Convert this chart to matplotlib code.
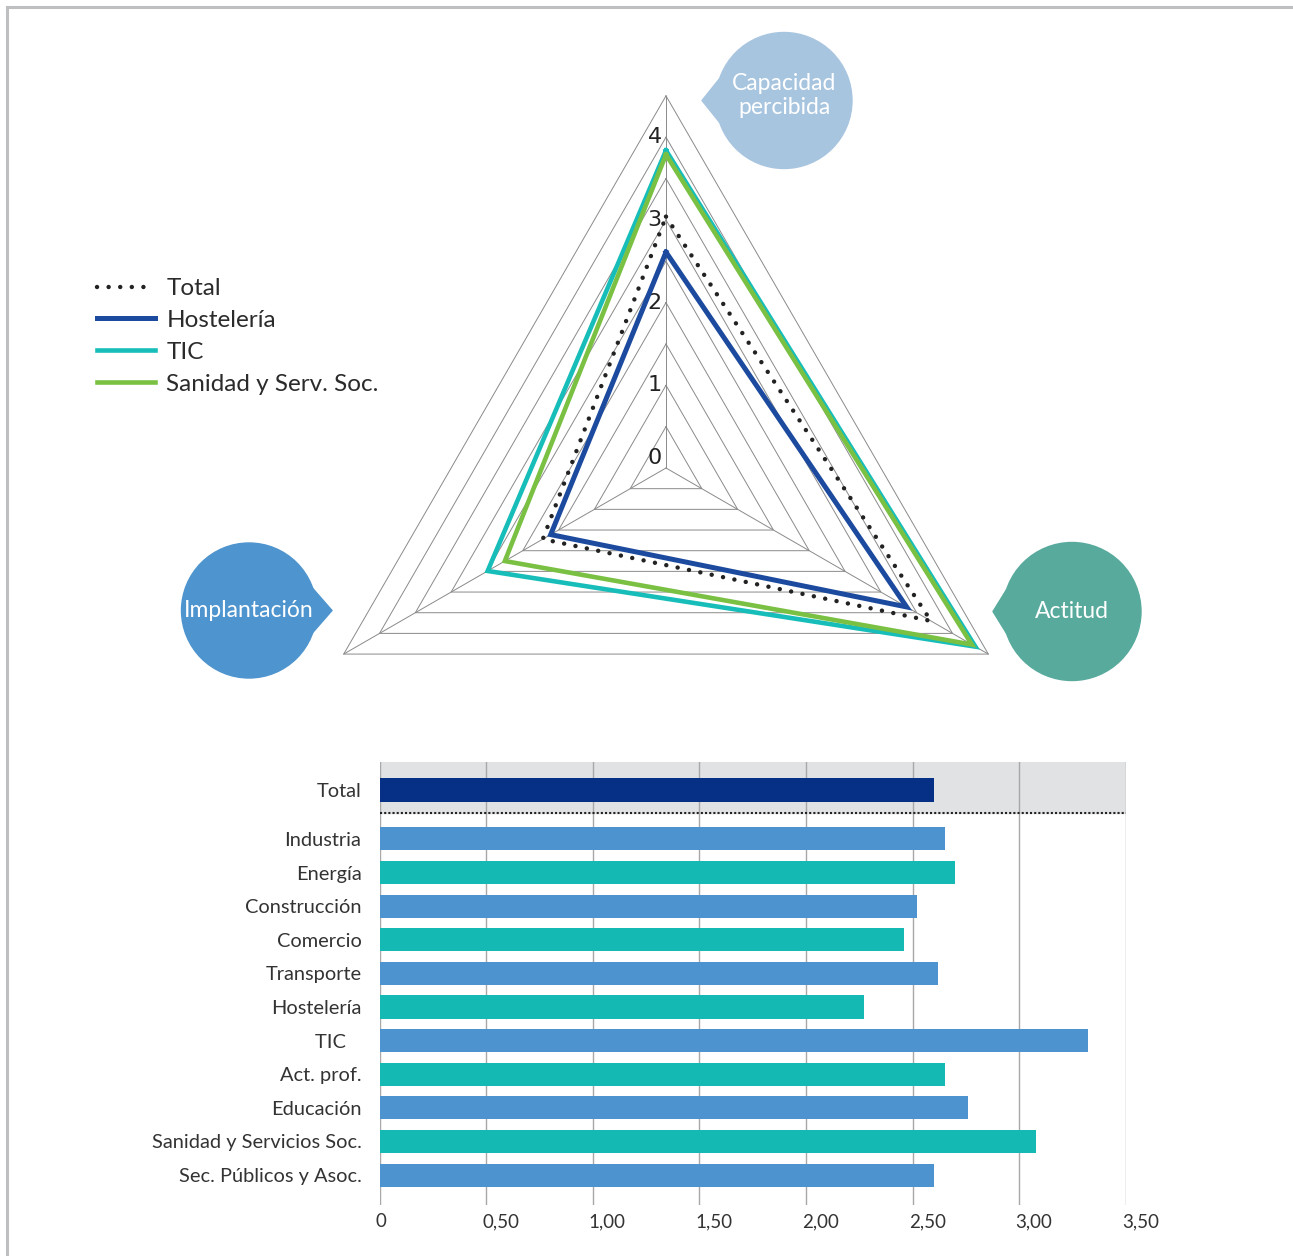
import numpy as np
import matplotlib.pyplot as plt
from matplotlib.patches import Circle, Polygon
import matplotlib.transforms as mtransforms

plt.rcParams['font.family'] = ['Lato', 'DejaVu Sans']

# datos del radar (Capacidad percibida, Actitud, Implantación)
ejes = ['Capacidad\npercibida', 'Actitud', 'Implantación']
series = ['Total', 'Hostelería', 'TIC', 'Sanidad y Serv. Soc.']
total = [3.04, 3.70, 1.72]
hosteleria = [2.61, 3.36, 1.61]
tic = [3.84, 4.32, 2.49]
sanidad = [3.79, 4.27, 2.25]
radar_ticks = [0, 1, 2, 3, 4]

# datos de las barras
sectores = ['Industria', 'Energía', 'Construcción', 'Comercio', 'Transporte',
            'Hostelería', 'TIC   ', 'Act. prof.', 'Educación',
            'Sanidad y Servicios Soc.', 'Sec. Públicos y Asoc.']
valores = [2.65, 2.70, 2.52, 2.46, 2.62, 2.27, 3.32, 2.65, 2.76, 3.08, 2.60]
valor_total = 2.60
x_ticks = [0, 0.5, 1, 1.5, 2, 2.5, 3, 3.5]
x_labels = ['0', '0,50', '1,00', '1,50', '2,00', '2,50', '3,00', '3,50']

W, H = 1293, 1256
fig = plt.figure(figsize=(W / 100, H / 100), dpi=100)

# capa en pixeles para marco, burbujas
px = fig.add_axes([0, 0, 1, 1])
px.set_xlim(0, W)
px.set_ylim(H, 0)
px.axis('off')

# marco gris
px.plot([7, W], [7, 7], color='#BDBFC1', lw=2.2, solid_capstyle='projecting')
px.plot([7, 7], [7, H], color='#BDBFC1', lw=2.2, solid_capstyle='projecting')

# radar
scale = 82.7
cx, cy = 666, 468
rad = fig.add_axes([0, 0, 1, 1])
rad.set_xlim(-cx / scale, (W - cx) / scale)
rad.set_ylim(-(H - cy) / scale, cy / scale)
rad.axis('off')

ang = np.deg2rad([90, -30, 210])


def tri(vals):
    vals = np.asarray(vals, dtype=float)
    x = vals * np.cos(ang)
    y = vals * np.sin(ang)
    return np.append(x, x[0]), np.append(y, y[0])


for lv in np.arange(0.5, 4.51, 0.5):
    x, y = tri([lv] * 3)
    rad.plot(x, y, color='#8a8a8a', lw=0.7, zorder=1)
for a in ang:
    rad.plot([0, 4.5 * np.cos(a)], [0, 4.5 * np.sin(a)], color='#8a8a8a', lw=0.7, zorder=1)

for t in radar_ticks:
    rad.text(-0.05, t, str(t), ha='right', va='bottom' if t == 0 else 'center',
             fontsize=16, family='DejaVu Sans', color='#222222', zorder=2)

x, y = tri(tic)
l_tic, = rad.plot(x, y, color='#17BDB8', lw=3.3, solid_joinstyle='miter', zorder=3)
x, y = tri(sanidad)
l_san, = rad.plot(x, y, color='#7AC143', lw=3.3, solid_joinstyle='miter', zorder=4)
x, y = tri(hosteleria)
l_hos, = rad.plot(x, y, color='#1C4A9E', lw=3.6, solid_joinstyle='miter', zorder=5)
x, y = tri(total)
l_tot, = rad.plot(x, y, color='#222222', lw=3.2, linestyle=(0, (0.01, 2.6)),
                  dash_capstyle='round', zorder=6)

fig.legend([l_tot, l_hos, l_tic, l_san], series, loc='upper left',
           bbox_to_anchor=(97 / W, 1 - 278 / H), frameon=False, fontsize=17.5,
           handlelength=2.4, handletextpad=0.45, labelspacing=0.45,
           borderpad=0, borderaxespad=0, labelcolor='#2B2B2B')


# burbujas de los ejes
def burbuja(bx, by, r, tip, color, texto):
    px.add_patch(Circle((bx, by), r, color=color, zorder=5))
    side = -1 if tip < bx else 1
    xb = bx + side * np.sqrt(r ** 2 - 22 ** 2)
    px.add_patch(Polygon([(tip, by), (xb, by - 22), (xb, by + 22)], closed=True,
                         color=color, zorder=5))
    px.text(bx, by - 5 if '\n' in texto else by, texto, ha='center', va='center',
            color='white', fontsize=16.5, linespacing=1.2, zorder=6)


burbuja(784, 100.5, 68, 702, '#A8C5E0', ejes[0])
burbuja(1072, 611.5, 69, 993, '#57AA9C', ejes[1])
burbuja(249, 610.5, 67.5, 332, '#4E94CE', ejes[2])

# barras
bax = fig.add_axes([379.5 / W, 1 - 1205 / H, 746.5 / W, 443 / H])
ypos = 1.458 + np.arange(len(sectores))
colores = ['#4D93CF' if i % 2 == 0 else '#15B9B3' for i in range(len(sectores))]
bax.barh(0, valor_total, height=0.685, color='#062F86', zorder=2)
bax.barh(ypos, valores, height=0.685, color=colores, zorder=2)
bax.set_xlim(0, 3.5)
bax.set_ylim(12.35, -0.833)
bax.axhspan(-0.833, 0.685, color='#E1E2E4', zorder=0)
bax.axhline(0.685, color='#222222', ls=(0, (1, 1)), lw=1.5, zorder=3)
bax.set_xticks(x_ticks)
bax.set_xticklabels(x_labels, fontsize=13.5, color='#333333')
bax.set_yticks([0] + list(ypos))
bax.set_yticklabels(['Total'] + sectores, fontsize=14.4, color='#333333')
bax.grid(axis='x', color='#A8A8A8', lw=1)
bax.set_axisbelow(True)
for s in bax.spines.values():
    s.set_visible(False)
bax.tick_params(axis='y', length=0, pad=13)
bax.tick_params(axis='x', length=0, pad=6)
shift = mtransforms.ScaledTranslation(-4 / 100, 0, fig.dpi_scale_trans)
for lab in bax.get_xticklabels():
    lab.set_ha('left')
    lab.set_transform(lab.get_transform() + shift)

fig.savefig('out.png', dpi=100)
